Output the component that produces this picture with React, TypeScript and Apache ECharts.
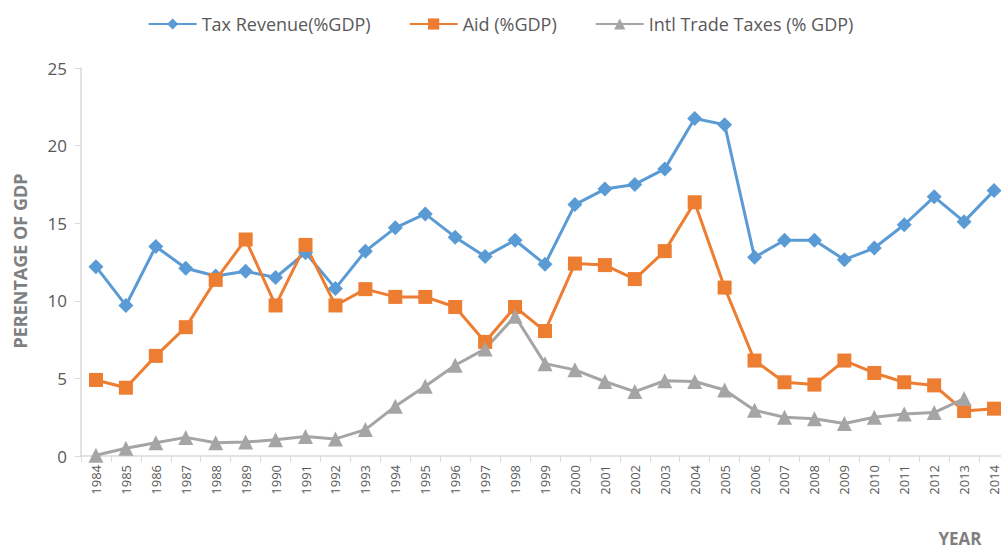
import React, { useEffect, useRef } from "react";
import * as echarts from "echarts";

const years = [
  "1984", "1985", "1986", "1987", "1988", "1989", "1990", "1991", "1992", "1993",
  "1994", "1995", "1996", "1997", "1998", "1999", "2000", "2001", "2002", "2003",
  "2004", "2005", "2006", "2007", "2008", "2009", "2010", "2011", "2012", "2013", "2014",
];

const taxRevenue = [
  12.2, 9.7, 13.5, 12.1, 11.6, 11.9, 11.5, 13.1, 10.8, 13.2,
  14.7, 15.6, 14.1, 12.85, 13.9, 12.35, 16.2, 17.2, 17.5, 18.5,
  21.75, 21.35, 12.8, 13.9, 13.9, 12.65, 13.4, 14.9, 16.7, 15.1, 17.1,
];

const aid = [
  4.9, 4.4, 6.45, 8.3, 11.35, 13.95, 9.7, 13.6, 9.7, 10.75,
  10.25, 10.25, 9.6, 7.35, 9.6, 8.05, 12.4, 12.3, 11.4, 13.2,
  16.35, 10.85, 6.15, 4.75, 4.6, 6.15, 5.35, 4.75, 4.55, 2.9, 3.05,
];

const tradeTaxes: (number | null)[] = [
  0.05, 0.5, 0.85, 1.2, 0.85, 0.9, 1.05, 1.25, 1.1, 1.7,
  3.2, 4.5, 5.85, 6.9, 9.0, 5.95, 5.55, 4.8, 4.15, 4.85,
  4.8, 4.25, 2.95, 2.5, 2.4, 2.1, 2.5, 2.7, 2.8, 3.7, null,
];

const seriesNames = ["Tax Revenue(%GDP)", "Aid (%GDP)", "Intl Trade Taxes (% GDP)"];
const colors = ["#5B9BD5", "#ED7D31", "#A5A5A5"];

export default function App() {
  const ref = useRef<HTMLDivElement>(null);
  useEffect(() => {
    if (!ref.current) return;
    const chart = echarts.init(ref.current, null, { renderer: "svg" });
    const font = "'Open Sans', 'Noto Sans', sans-serif";
    chart.setOption({
      animation: false,
      textStyle: { fontFamily: font },
      legend: {
        top: 10,
        left: "center",
        itemWidth: 48,
        itemHeight: 14,
        itemGap: 38,
        textStyle: { color: "#595959", fontSize: 18, fontFamily: font },
        data: seriesNames,
      },
      grid: { left: 81, top: 68, width: 928, height: 388, outerBoundsMode: "none", containLabel: false },
      xAxis: {
        type: "category",
        data: years,
        boundaryGap: true,
        axisLine: { show: true, lineStyle: { color: "#D9D9D9", width: 1.5 } },
        axisTick: { show: true, length: 6, lineStyle: { color: "#D9D9D9" } },
        axisLabel: {
          rotate: 90,
          color: "#595959",
          fontSize: 13,
          margin: 9,
          interval: 0,
        },
        splitLine: { show: false },
      },
      yAxis: {
        type: "value",
        min: 0,
        max: 25,
        interval: 5,
        axisLine: { show: true, lineStyle: { color: "#D9D9D9", width: 1.5 } },
        axisTick: { show: true, length: 6, lineStyle: { color: "#D9D9D9" } },
        axisLabel: { color: "#595959", fontSize: 17, margin: 14 },
        splitLine: { show: false },
      },
      graphic: [
        {
          type: "text",
          x: 20,
          y: 261,
          rotation: Math.PI / 2,
          style: {
            text: "PERENTAGE OF GDP",
            fill: "#7F7F7F",
            font: `bold 18px ${font}`,
            textAlign: "center",
            textVerticalAlign: "middle",
          },
        },
        {
          type: "text",
          x: 960,
          y: 538,
          style: {
            text: "YEAR",
            fill: "#7F7F7F",
            font: `bold 17px ${font}`,
            textAlign: "center",
            textVerticalAlign: "middle",
          },
        },
      ],
      series: [
        {
          name: seriesNames[0],
          type: "line",
          data: taxRevenue,
          symbol: "diamond",
          symbolSize: 15,
          lineStyle: { color: colors[0], width: 3 },
          itemStyle: { color: colors[0] },
        },
        {
          name: seriesNames[1],
          type: "line",
          data: aid,
          symbol: "rect",
          symbolSize: 14,
          lineStyle: { color: colors[1], width: 3 },
          itemStyle: { color: colors[1] },
        },
        {
          name: seriesNames[2],
          type: "line",
          data: tradeTaxes,
          symbol: "triangle",
          symbolSize: 15,
          lineStyle: { color: colors[2], width: 3 },
          itemStyle: { color: colors[2] },
        },
      ],
    });
    return () => chart.dispose();
  }, []);
  return (
    <div
      ref={ref}
      style={{ position: "fixed", left: 0, top: 0, width: 1001, height: 547, background: "#fff" }}
    />
  );
}
